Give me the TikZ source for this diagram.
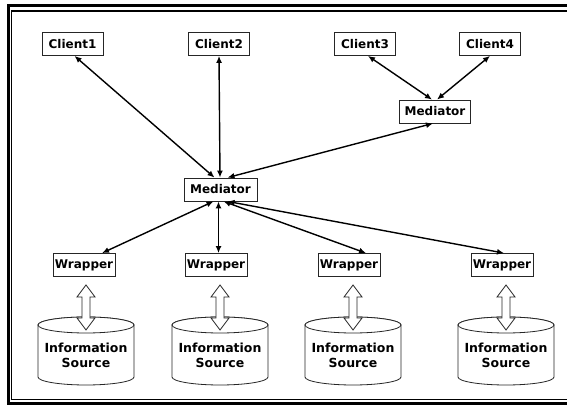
\documentclass[tikz,border=0pt]{standalone}
\usepackage{fontspec}
\setmainfont{DejaVu Sans}
\usetikzlibrary{arrows.meta}
\begin{document}
\begin{tikzpicture}[x=1pt,y=1pt,
  box/.style={draw=black!85,line width=0.8pt,fill=white,inner sep=0pt,minimum height=23pt,
    font=\fontsize{12}{13}\selectfont\bfseries},
  conn/.style={line width=1.4pt,{Latex[length=7pt,width=6pt]}-{Latex[length=7pt,width=6pt]}},
  src/.style={align=center,font=\fontsize{12.5}{15}\selectfont\bfseries},
  hollow/.style={draw=black!85,line width=0.8pt,fill=white},
  cyl/.style={draw=black!85,line width=0.8pt,fill=white}]
\useasboundingbox (0,0) rectangle (567,406);
\fill[white] (0,0) rectangle (567,406);
% frame
\draw[line width=3pt] (575,400.5) -- (8,400.5) -- (8,2.5) -- (575,2.5);
\draw[line width=1.2pt] (575,395) -- (11.5,395) -- (11.5,6.5) -- (575,6.5);
% nodes
\node[box,minimum width=61pt] (c1) at (72.5,362) {Client1};
\node[box,minimum width=61pt] (c2) at (219,362) {Client2};
\node[box,minimum width=61pt] (c3) at (365,362) {Client3};
\node[box,minimum width=61pt] (c4) at (490,362) {Client4};
\node[box,minimum width=71pt] (m2) at (435,294.5) {Mediator};
\node[box,minimum width=73pt] (m) at (220.5,216.5) {Mediator};
\node[box,minimum width=62pt] (w1) at (84,141) {Wrapper};
\node[box,minimum width=62pt] (w2) at (216,141) {Wrapper};
\node[box,minimum width=62pt] (w3) at (349,141) {Wrapper};
\node[box,minimum width=62pt] (w4) at (502,141) {Wrapper};
% connectors
\draw[conn] ([xshift=2pt]c1.south) -- ([xshift=-6pt]m.north);
\draw[conn] (c2.south) -- ([xshift=-0.5pt]m.north);
\draw[conn] ([xshift=3pt]c3.south) -- ([xshift=-3pt]m2.north);
\draw[conn] (c4.south) -- ([xshift=2pt]m2.north);
\draw[conn] ([xshift=-2pt]m2.south) -- ([xshift=7pt]m.north);
\draw[conn] ([xshift=-7pt]m.south) -- ([xshift=18pt]w1.north);
\draw[conn] ([xshift=-2pt]m.south) -- ([xshift=2.5pt]w2.north);
\draw[conn] ([xshift=3pt]m.south) -- ([xshift=17pt]w3.north);
\draw[conn] ([xshift=7pt]m.south) -- ([xshift=2pt]w4.north);
% information sources
\foreach \c/\n in {86/s1,220/s2,353/s3,506/s4}{
  \draw[cyl] (\c-48,81) -- (\c-48,29) arc[start angle=180,end angle=360,x radius=48,y radius=8]
     -- (\c+48,81) arc[start angle=0,end angle=180,x radius=48,y radius=8];
  \draw[cyl] (\c,81) ellipse[x radius=48,y radius=8];
  \node[src] (\n) at (\c,51) {Information\\Source};
  \draw[hollow] (\c,121) -- (\c+9,109) -- (\c+4,109) -- (\c+4,88) -- (\c+9,88) -- (\c,76)
     -- (\c-9,88) -- (\c-4,88) -- (\c-4,109) -- (\c-9,109) -- cycle;
}
\end{tikzpicture}
\end{document}
